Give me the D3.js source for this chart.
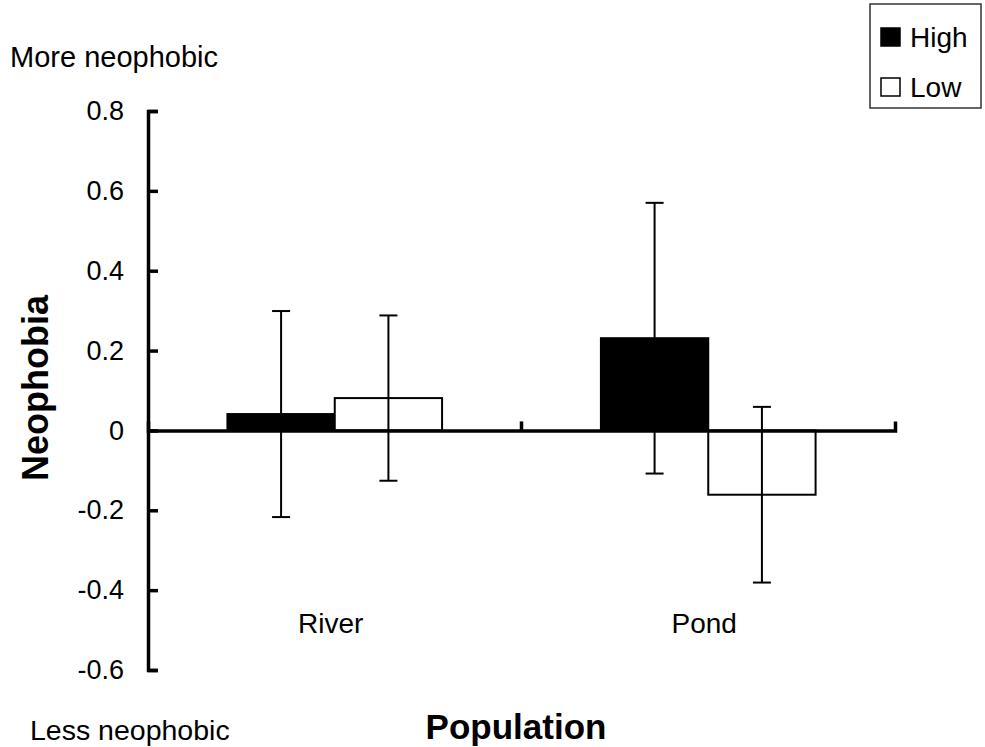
<!DOCTYPE html>
<html>
<head>
	<meta charset="utf-8">
	<title>Neophobia</title>
	<script src="https://d3js.org/d3.v7.min.js"></script>
	<style>
		body { margin: 0; background: #fff; }
		svg { display: block; font-family: "Liberation Sans", Arial, sans-serif; }
		.axis path, .axis line { stroke: #000; fill: none; }
	</style>
</head>
<body>
	<svg></svg>
	<script>

	// data
	var categories = ["River", "Pond"];
	var groups = ["High", "Low"];
	var highMeans = [0.041, 0.231];
	var lowMeans = [0.081, -0.161];
	var highErr = [0.258, 0.339];
	var lowErr = [0.207, 0.220];
	var yTicks = [-0.6, -0.4, -0.2, 0, 0.2, 0.4, 0.6, 0.8];

	var width = 985, height = 747;

	var svg = d3.select("svg")
		.attr("width", width)
		.attr("height", height);

	var x0 = d3.scaleBand().domain(categories).range([148, 895]);
	var x1 = d3.scaleBand().domain(groups).range([0, x0.bandwidth()]).paddingOuter(0.74);
	var y = d3.scaleLinear().domain([-0.6, 0.8]).range([670, 111]);

	var rows = [];
	categories.forEach(function(c, i) {
		rows.push({cat: c, grp: "High", mean: highMeans[i], err: highErr[i]});
		rows.push({cat: c, grp: "Low", mean: lowMeans[i], err: lowErr[i]});
	});

	/** bars **/
	svg.selectAll("rect.bar")
		.data(rows)
		.enter().append("rect")
		.attr("class", "bar")
		.attr("x", function(d) { return x0(d.cat) + x1(d.grp); })
		.attr("width", x1.bandwidth())
		.attr("y", function(d) { return y(Math.max(0, d.mean)); })
		.attr("height", function(d) { return Math.abs(y(d.mean) - y(0)); })
		.attr("fill", function(d) { return d.grp == "High" ? "#000" : "#fff"; })
		.attr("stroke", "#000")
		.attr("stroke-width", 2);

	/** error bars **/
	var cap = 9;
	var eb = svg.selectAll("g.err")
		.data(rows)
		.enter().append("g")
		.attr("class", "err")
		.attr("stroke", "#000")
		.attr("stroke-width", 2);

	eb.append("line")
		.attr("x1", function(d) { return x0(d.cat) + x1(d.grp) + x1.bandwidth() / 2; })
		.attr("x2", function(d) { return x0(d.cat) + x1(d.grp) + x1.bandwidth() / 2; })
		.attr("y1", function(d) { return y(d.mean + d.err); })
		.attr("y2", function(d) { return y(d.mean - d.err); });

	[1, -1].forEach(function(s) {
		eb.append("line")
			.attr("x1", function(d) { return x0(d.cat) + x1(d.grp) + x1.bandwidth() / 2 - cap; })
			.attr("x2", function(d) { return x0(d.cat) + x1(d.grp) + x1.bandwidth() / 2 + cap; })
			.attr("y1", function(d) { return y(d.mean + s * d.err); })
			.attr("y2", function(d) { return y(d.mean + s * d.err); });
	});

	/** x axis at zero, ticks pointing up **/
	var xaxis = d3.axisBottom(x0).tickSize(0).tickSizeOuter(-9).tickFormat("");
	var gx = svg.append("g")
		.attr("class", "axis")
		.attr("transform", "translate(0," + y(0) + ")")
		.call(xaxis);
	gx.select(".domain").attr("stroke-width", 3.5);
	gx.selectAll(".tick").remove();
	gx.selectAll("line.sep")
		.data(categories.slice(1))
		.enter().append("line")
		.attr("class", "sep")
		.attr("x1", function(d) { return x0(d); })
		.attr("x2", function(d) { return x0(d); })
		.attr("y1", 0)
		.attr("y2", -9)
		.attr("stroke", "#000")
		.attr("stroke-width", 3.5);

	/** y axis, ticks pointing in **/
	var yaxis = d3.axisLeft(y)
		.tickValues(yTicks)
		.tickSize(-10)
		.tickPadding(24)
		.tickFormat(function(d) { return d === 0 ? "0" : d.toFixed(1); });
	var gy = svg.append("g")
		.attr("class", "axis")
		.attr("transform", "translate(148,0)")
		.call(yaxis);
	gy.select(".domain").attr("stroke-width", 3.5);
	gy.selectAll(".tick line").attr("stroke-width", 3.5);
	gy.selectAll(".tick text")
		.attr("fill", "#000")
		.style("font-size", "27px")
		.style("font-family", "'Liberation Sans', Arial, sans-serif");

	/** category labels **/
	svg.selectAll("text.cat")
		.data(categories)
		.enter().append("text")
		.attr("class", "cat")
		.attr("x", function(d) { return x0(d) + x0.bandwidth() / 2 - 4; })
		.attr("y", 633)
		.attr("text-anchor", "middle")
		.style("font-size", "28px")
		.text(function(d) { return d; });

	/** titles and notes **/
	svg.append("text")
		.attr("x", 10).attr("y", 67)
		.style("font-size", "29px")
		.text("More neophobic");

	svg.append("text")
		.attr("x", 30).attr("y", 740)
		.style("font-size", "28.5px")
		.text("Less neophobic");

	svg.append("text")
		.attr("x", 516).attr("y", 739)
		.attr("text-anchor", "middle")
		.style("font-size", "35px")
		.style("font-weight", "bold")
		.text("Population");

	svg.append("text")
		.attr("transform", "translate(48,388) rotate(-90)")
		.attr("text-anchor", "middle")
		.style("font-size", "36px")
		.style("font-weight", "bold")
		.text("Neophobia");

	/** legend **/
	var legend = svg.append("g").attr("transform", "translate(870,4)");
	legend.append("rect")
		.attr("width", 111).attr("height", 104)
		.attr("fill", "#fff")
		.attr("stroke", "#333")
		.attr("stroke-width", 1.5);
	var li = legend.selectAll("g.item")
		.data(groups)
		.enter().append("g")
		.attr("class", "item")
		.attr("transform", function(d, i) { return "translate(0," + (i * 50) + ")"; });
	li.append("rect")
		.attr("x", 11).attr("y", 24)
		.attr("width", 19).attr("height", 18)
		.attr("fill", function(d) { return d == "High" ? "#000" : "#fff"; })
		.attr("stroke", "#000")
		.attr("stroke-width", 1.5);
	li.append("text")
		.attr("x", 40).attr("y", 43)
		.style("font-size", "28px")
		.text(function(d) { return d; });
	</script>
</body>
</html>
